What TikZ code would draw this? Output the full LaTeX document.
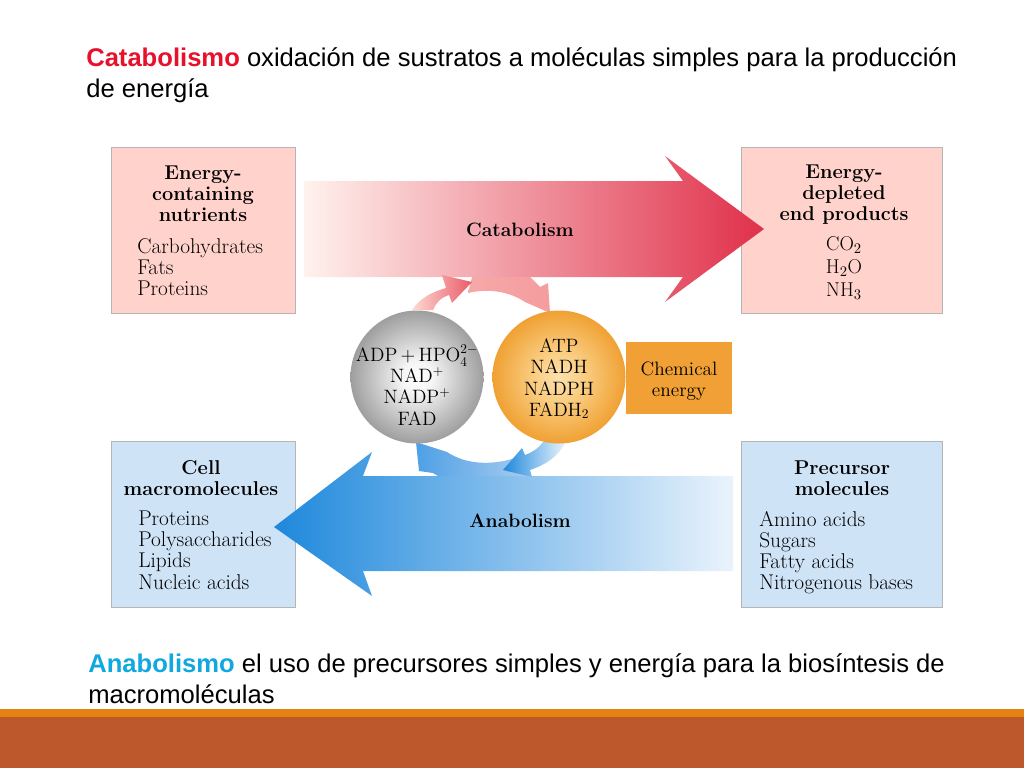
\documentclass[tikz,border=0pt]{standalone}
\usepackage{amsmath,amssymb}
\usepackage{fontspec}
\usepackage{xcolor}
\newfontfamily\slidefont{Liberation Sans}
\definecolor{boxred}{HTML}{FFD3CB}
\definecolor{boxblue}{HTML}{CFE3F7}
\definecolor{boxline}{HTML}{B5B5B5}
\definecolor{headred}{HTML}{E8112D}
\definecolor{headblue}{HTML}{0FA8E0}
\definecolor{barorange}{HTML}{E48312}
\definecolor{barrust}{HTML}{BD582C}
\definecolor{chemorange}{HTML}{F0A035}
\definecolor{cataleft}{HTML}{FFF2EE}
\definecolor{catamid}{HTML}{F9AEA3}
\definecolor{cataright}{HTML}{E0304A}
\definecolor{anaright}{HTML}{EAF3FC}
\definecolor{anamid}{HTML}{7DB9EC}
\definecolor{analeft}{HTML}{1E88DC}
\definecolor{smallred}{HTML}{EC5A68}
\definecolor{smallpink}{HTML}{F6A8A8}
\definecolor{palepink}{HTML}{FBDAD3}
\definecolor{smallblue}{HTML}{4FA0E6}
\definecolor{paleblue}{HTML}{A8CCEE}
\pgfdeclareradialshading{grayball}{\pgfpointorigin}{rgb(0bp)=(1,1,1); rgb(6bp)=(.96,.96,.96); rgb(25bp)=(.62,.62,.62); rgb(50bp)=(.62,.62,.62)}
\pgfdeclareradialshading{orangeball}{\pgfpointorigin}{rgb(0bp)=(.99,.88,.68); rgb(10bp)=(.98,.8,.5); rgb(25bp)=(.94,.63,.2); rgb(50bp)=(.94,.63,.2)}
\tikzset{
  slidetext/.style={anchor=base west, inner sep=0pt, font=\slidefont\fontsize{19.2}{19.2}\selectfont},
  boxtitle/.style={align=center, inner sep=0pt, font=\fontsize{15}{15.8}\selectfont\bfseries},
  boxlist/.style={align=left, inner sep=0pt, font=\fontsize{16}{15.8}\selectfont},
  ballstyle/.style={align=center, inner sep=0pt, font=\fontsize{14.5}{15.8}\selectfont},
}
\begin{document}
\begin{tikzpicture}[x=0.75pt,y=-0.75pt]
        \useasboundingbox (0,0) rectangle (1024,768);

        % Bottom bars
        \fill[barorange] (0,709) rectangle (1024,717);
        \fill[barrust] (0,717) rectangle (1024,768);

        % Slide text
        \node[slidetext] (cataline1) at (86,66) {\textbf{\textcolor{headred}{Catabolismo}} oxidación de sustratos a moléculas simples para la producción};
        \node[slidetext] (cataline2) at (86,97) {de energía};
        \node[slidetext] (analine1) at (88,672) {\textbf{\textcolor{headblue}{Anabolismo}} el uso de precursores simples y energía para la biosíntesis de};
        \node[slidetext] (analine2) at (88,703) {macromoléculas};

        % Boxes
        \draw[boxline, fill=boxred] (111,147) rectangle (295,313);
        \draw[boxline, fill=boxred] (741,147) rectangle (942,313);
        \draw[boxline, fill=boxblue] (111,441) rectangle (295,607);
        \draw[boxline, fill=boxblue] (741,441) rectangle (942,607);

        % Catabolism and anabolism arrows
        \shade[left color=cataleft, middle color=catamid, right color=cataright]
          (304,181) -- (683,181) -- (665,156) -- (764,229) -- (665,302) -- (683,277) -- (304,277) -- cycle;
        \shade[left color=analeft, middle color=anamid, right color=anaright]
          (733,476) -- (363,476) -- (372,452) -- (274,527) -- (372,596) -- (363,571) -- (733,571) -- cycle;

        % Small red arrows
        \shade[left color=smallpink, right color=smallpink!85!smallred]
          (468,293) .. controls (490,288) and (510,292) .. (525,302) -- (550,313) -- (548,283) -- (540,287)
          .. controls (536,283) and (533,280) .. (530,277) -- (472,277) -- cycle;
        \shade[left color=palepink, right color=smallred]
          (412,310) .. controls (420,298) and (432,292) .. (446,288) -- (442,275) -- (472,282) -- (452,303) -- (449,295)
          .. controls (440,298) and (436,303) .. (433,310) -- cycle;

        % Small blue arrows
        \shade[left color=smallblue, right color=paleblue]
          (416,442) -- (447,452) .. controls (465,464) and (490,466) .. (515,458) -- (530,470) -- (528,476) -- (438,476) -- (433,473) -- (419,471) -- cycle;
        \shade[left color=analeft, right color=anaright]
          (503,470) -- (522,448) -- (525,455) .. controls (533,452) and (540,447) .. (543,442) -- (565,443)
          .. controls (558,457) and (545,465) .. (530,470) -- (532,477) -- cycle;

        \node[font=\fontsize{14.5}{15}\selectfont\bfseries] (catabolism) at (520,230) {Catabolism};
        \node[font=\fontsize{14.5}{15}\selectfont\bfseries] (anabolism) at (520,521) {Anabolism};

        % Circles
        \shade[shading=grayball] (417,377) circle (66.5);
        \shade[shading=orangeball] (559,377) circle (66.5);
        \node[ballstyle, font=\fontsize{14.5}{16.0}\selectfont] (adp) at (417,385) {ADP\,+\,HPO$_4^{2-}$\\NAD$^+$\\NADP$^+$\\FAD};
        \node[ballstyle] (atp) at (559,379) {ATP\\NADH\\NADPH\\FADH$_2$};

        % Chemical energy
        \node[fill=chemorange, minimum width=80, minimum height=53.5, inner sep=0pt] (chemical) at (679,378) {};
        \node[align=center, inner sep=0pt, font=\fontsize{14.5}{16}\selectfont] (chemtext) at (679,381) {Chemical\\energy};

        % Box texts
        \node[boxtitle] (nutrients) at (203,194) {Energy-\\containing\\nutrients};
        \node[boxlist, anchor=north west] (nutrientlist) at (137,238) {Carbohydrates\\Fats\\Proteins};
        \node[boxtitle] (endproducts) at (844,195) {Energy-\\depleted\\end products};
        \node[boxlist, align=center, font=\fontsize{15}{17}\selectfont] (productlist) at (844,268) {CO$_2$\\H$_2$O\\NH$_3$};
        \node[boxtitle] (macromol) at (201,478) {Cell\\macromolecules};
        \node[boxlist, anchor=north west] (macrolist) at (138,511) {Proteins\\Polysaccharides\\Lipids\\Nucleic acids};
        \node[boxtitle] (precursor) at (842,478) {Precursor\\molecules};
        \node[boxlist, anchor=north west] (precursorlist) at (759,511) {Amino acids\\Sugars\\Fatty acids\\Nitrogenous bases};
    \end{tikzpicture}
\end{document}
